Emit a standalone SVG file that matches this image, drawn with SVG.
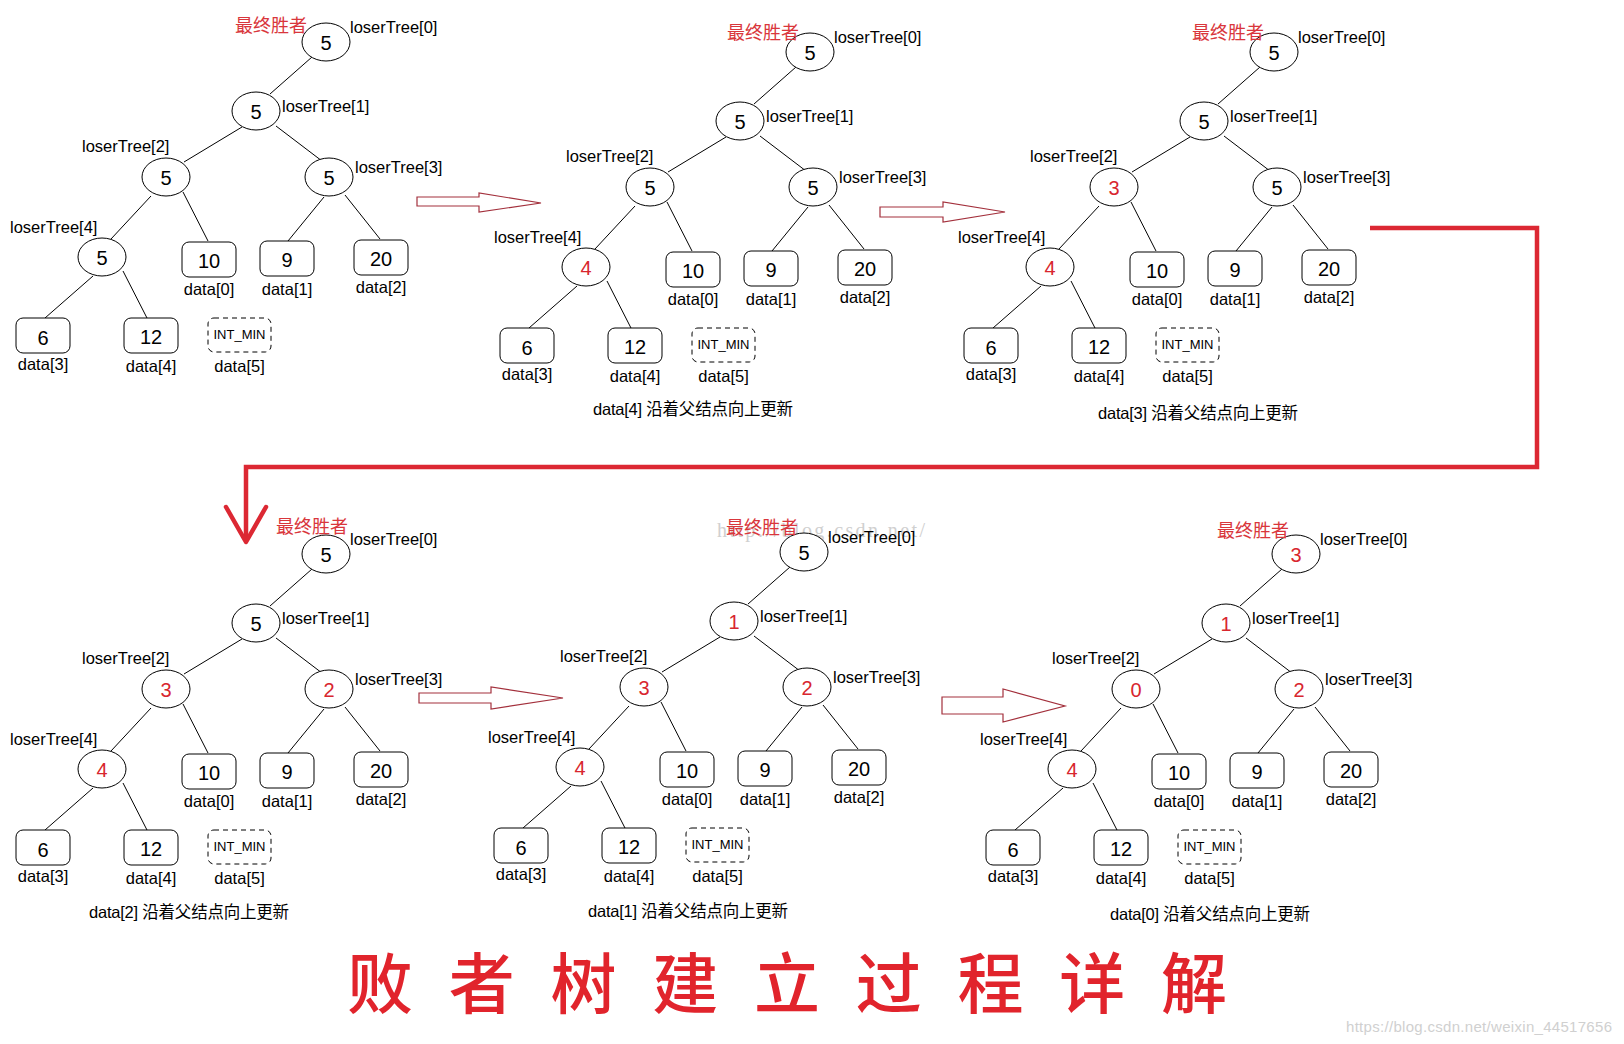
<svg xmlns="http://www.w3.org/2000/svg" width="1624" height="1044" viewBox="0 0 1624 1044">
<style>
text{font-family:"Liberation Sans","Noto Sans CJK SC",sans-serif;fill:#000}
.n ellipse,.n rect{fill:#fff;stroke:#000;stroke-width:1}
.n rect.dash{stroke-dasharray:5 4}
.v{font-size:20px;text-anchor:middle}
.r{fill:#d8262e}
.l{font-size:16.5px}
.c{text-anchor:middle}
.m{font-size:13px;text-anchor:middle}
.win{font-size:18px;fill:#d9363c}
.cap{font-size:16.5px}
.edge line{stroke:#000;stroke-width:1}
.hollow{fill:#fff;stroke:#a3303c;stroke-width:1.2}
.wm{fill:#d0d0d0}
</style>
<rect width="1624" height="1044" fill="#fff"/>

<text class="wm" x="717" y="537" style="font-family:'Liberation Serif',serif;font-size:20px" textLength="208">http://blog.csdn.net/</text>

<!-- connectors between panels -->
<g id="connectors">
<polygon class="hollow" points="417,197 479,197 479,193 541,203 479,212 479,206 417,206"/>
<polygon class="hollow" points="880,207 943,207 943,202 1005,212 943,222 943,217 880,217"/>
<polygon class="hollow" points="419,693 491,693 491,687 563,698 491,709 491,703 419,703"/>
<polygon class="hollow" points="942,697 1003,697 1003,689 1065,706 1003,722 1003,714 942,714"/>
<path d="M1370,228 H1537 V467 H246 V540" fill="none" stroke="#dc2833" stroke-width="4.5"/>
<path d="M226,507 L246,542 L266,507" fill="none" stroke="#dc2833" stroke-width="4.5" stroke-linecap="round" stroke-linejoin="round"/>
</g>

<!-- Panel 1 -->
<g id="panel1" transform="translate(0,0)">
<g id="p1-edges" class="edge">
<line x1="312" y1="57" x2="270" y2="94"/><line x1="242" y1="127" x2="184" y2="162"/><line x1="276" y1="126" x2="322" y2="161"/><line x1="151" y1="196" x2="111" y2="239"/><line x1="183" y1="192" x2="208" y2="241"/><line x1="324" y1="197" x2="288" y2="241"/><line x1="345" y1="195" x2="380" y2="239"/><line x1="93" y1="276" x2="45" y2="318"/><line x1="123" y1="271" x2="148" y2="320"/>
</g>
<text class="win" x="235" y="32">最终胜者</text>
<g id="p1-lt0" class="n"><ellipse cx="326" cy="42" rx="24" ry="19"/><text class="v" x="326" y="50">5</text><text class="l" x="350" y="33">loserTree[0]</text></g>
<g id="p1-lt1" class="n"><ellipse cx="256" cy="111" rx="24" ry="19"/><text class="v" x="256" y="119">5</text><text class="l" x="282" y="112">loserTree[1]</text></g>
<g id="p1-lt2" class="n"><ellipse cx="166" cy="177" rx="24" ry="19"/><text class="v" x="166" y="185">5</text><text class="l" x="82" y="152">loserTree[2]</text></g>
<g id="p1-lt3" class="n"><ellipse cx="329" cy="177" rx="24" ry="19"/><text class="v" x="329" y="185">5</text><text class="l" x="355" y="173">loserTree[3]</text></g>
<g id="p1-lt4" class="n"><ellipse cx="102" cy="257" rx="24" ry="19"/><text class="v" x="102" y="265">5</text><text class="l" x="10" y="233">loserTree[4]</text></g>
<g id="p1-d0" class="n"><rect x="182" y="242" width="54" height="35" rx="7"/><text class="v" x="209" y="268">10</text><text class="l c" x="209" y="295">data[0]</text></g>
<g id="p1-d1" class="n"><rect x="260" y="241" width="54" height="35" rx="7"/><text class="v" x="287" y="267">9</text><text class="l c" x="287" y="295">data[1]</text></g>
<g id="p1-d2" class="n"><rect x="354" y="240" width="54" height="35" rx="7"/><text class="v" x="381" y="266">20</text><text class="l c" x="381" y="293">data[2]</text></g>
<g id="p1-d3" class="n"><rect x="16" y="318" width="54" height="35" rx="7"/><text class="v" x="43" y="345">6</text><text class="l c" x="43" y="370">data[3]</text></g>
<g id="p1-d4" class="n"><rect x="124" y="318" width="54" height="35" rx="7"/><text class="v" x="151" y="344">12</text><text class="l c" x="151" y="372">data[4]</text></g>
<g id="p1-d5" class="n"><rect class="dash" x="208" y="318" width="63" height="34" rx="6"/><text class="m" x="239.5" y="339">INT_MIN</text><text class="l c" x="239.5" y="372">data[5]</text></g>
</g>

<!-- Panel 2 -->
<g id="panel2" transform="translate(484,10)">
<g id="p2-edges" class="edge">
<line x1="312" y1="57" x2="270" y2="94"/><line x1="242" y1="127" x2="184" y2="162"/><line x1="276" y1="126" x2="322" y2="161"/><line x1="151" y1="196" x2="111" y2="239"/><line x1="183" y1="192" x2="208" y2="241"/><line x1="324" y1="197" x2="288" y2="241"/><line x1="345" y1="195" x2="380" y2="239"/><line x1="93" y1="276" x2="45" y2="318"/><line x1="123" y1="271" x2="148" y2="320"/>
</g>
<g id="p2-lt0" class="n"><ellipse cx="326" cy="42" rx="24" ry="19"/><text class="v" x="326" y="50">5</text><text class="l" x="350" y="33">loserTree[0]</text></g>
<text class="win" x="243" y="29">最终胜者</text>
<g id="p2-lt1" class="n"><ellipse cx="256" cy="111" rx="24" ry="19"/><text class="v" x="256" y="119">5</text><text class="l" x="282" y="112">loserTree[1]</text></g>
<g id="p2-lt2" class="n"><ellipse cx="166" cy="177" rx="24" ry="19"/><text class="v" x="166" y="185">5</text><text class="l" x="82" y="152">loserTree[2]</text></g>
<g id="p2-lt3" class="n"><ellipse cx="329" cy="177" rx="24" ry="19"/><text class="v" x="329" y="185">5</text><text class="l" x="355" y="173">loserTree[3]</text></g>
<g id="p2-lt4" class="n"><ellipse cx="102" cy="257" rx="24" ry="19"/><text class="v r" x="102" y="265">4</text><text class="l" x="10" y="233">loserTree[4]</text></g>
<g id="p2-d0" class="n"><rect x="182" y="242" width="54" height="35" rx="7"/><text class="v" x="209" y="268">10</text><text class="l c" x="209" y="295">data[0]</text></g>
<g id="p2-d1" class="n"><rect x="260" y="241" width="54" height="35" rx="7"/><text class="v" x="287" y="267">9</text><text class="l c" x="287" y="295">data[1]</text></g>
<g id="p2-d2" class="n"><rect x="354" y="240" width="54" height="35" rx="7"/><text class="v" x="381" y="266">20</text><text class="l c" x="381" y="293">data[2]</text></g>
<g id="p2-d3" class="n"><rect x="16" y="318" width="54" height="35" rx="7"/><text class="v" x="43" y="345">6</text><text class="l c" x="43" y="370">data[3]</text></g>
<g id="p2-d4" class="n"><rect x="124" y="318" width="54" height="35" rx="7"/><text class="v" x="151" y="344">12</text><text class="l c" x="151" y="372">data[4]</text></g>
<g id="p2-d5" class="n"><rect class="dash" x="208" y="318" width="63" height="34" rx="6"/><text class="m" x="239.5" y="339">INT_MIN</text><text class="l c" x="239.5" y="372">data[5]</text></g>
<text class="cap" x="109" y="405" textLength="200">data[4] 沿着父结点向上更新</text>
</g>

<!-- Panel 3 -->
<g id="panel3" transform="translate(948,10)">
<g id="p3-edges" class="edge">
<line x1="312" y1="57" x2="270" y2="94"/><line x1="242" y1="127" x2="184" y2="162"/><line x1="276" y1="126" x2="322" y2="161"/><line x1="151" y1="196" x2="111" y2="239"/><line x1="183" y1="192" x2="208" y2="241"/><line x1="324" y1="197" x2="288" y2="241"/><line x1="345" y1="195" x2="380" y2="239"/><line x1="93" y1="276" x2="45" y2="318"/><line x1="123" y1="271" x2="148" y2="320"/>
</g>
<g id="p3-lt0" class="n"><ellipse cx="326" cy="42" rx="24" ry="19"/><text class="v" x="326" y="50">5</text><text class="l" x="350" y="33">loserTree[0]</text></g>
<text class="win" x="244" y="29">最终胜者</text>
<g id="p3-lt1" class="n"><ellipse cx="256" cy="111" rx="24" ry="19"/><text class="v" x="256" y="119">5</text><text class="l" x="282" y="112">loserTree[1]</text></g>
<g id="p3-lt2" class="n"><ellipse cx="166" cy="177" rx="24" ry="19"/><text class="v r" x="166" y="185">3</text><text class="l" x="82" y="152">loserTree[2]</text></g>
<g id="p3-lt3" class="n"><ellipse cx="329" cy="177" rx="24" ry="19"/><text class="v" x="329" y="185">5</text><text class="l" x="355" y="173">loserTree[3]</text></g>
<g id="p3-lt4" class="n"><ellipse cx="102" cy="257" rx="24" ry="19"/><text class="v r" x="102" y="265">4</text><text class="l" x="10" y="233">loserTree[4]</text></g>
<g id="p3-d0" class="n"><rect x="182" y="242" width="54" height="35" rx="7"/><text class="v" x="209" y="268">10</text><text class="l c" x="209" y="295">data[0]</text></g>
<g id="p3-d1" class="n"><rect x="260" y="241" width="54" height="35" rx="7"/><text class="v" x="287" y="267">9</text><text class="l c" x="287" y="295">data[1]</text></g>
<g id="p3-d2" class="n"><rect x="354" y="240" width="54" height="35" rx="7"/><text class="v" x="381" y="266">20</text><text class="l c" x="381" y="293">data[2]</text></g>
<g id="p3-d3" class="n"><rect x="16" y="318" width="54" height="35" rx="7"/><text class="v" x="43" y="345">6</text><text class="l c" x="43" y="370">data[3]</text></g>
<g id="p3-d4" class="n"><rect x="124" y="318" width="54" height="35" rx="7"/><text class="v" x="151" y="344">12</text><text class="l c" x="151" y="372">data[4]</text></g>
<g id="p3-d5" class="n"><rect class="dash" x="208" y="318" width="63" height="34" rx="6"/><text class="m" x="239.5" y="339">INT_MIN</text><text class="l c" x="239.5" y="372">data[5]</text></g>
<text class="cap" x="150" y="409" textLength="200">data[3] 沿着父结点向上更新</text>
</g>

<!-- Panel 4 -->
<g id="panel4" transform="translate(0,512)">
<g id="p4-edges" class="edge">
<line x1="312" y1="57" x2="270" y2="94"/><line x1="242" y1="127" x2="184" y2="162"/><line x1="276" y1="126" x2="322" y2="161"/><line x1="151" y1="196" x2="111" y2="239"/><line x1="183" y1="192" x2="208" y2="241"/><line x1="324" y1="197" x2="288" y2="241"/><line x1="345" y1="195" x2="380" y2="239"/><line x1="93" y1="276" x2="45" y2="318"/><line x1="123" y1="271" x2="148" y2="320"/>
</g>
<g id="p4-lt0" class="n"><ellipse cx="326" cy="42" rx="24" ry="19"/><text class="v" x="326" y="50">5</text><text class="l" x="350" y="33">loserTree[0]</text></g>
<text class="win" x="276" y="21">最终胜者</text>
<g id="p4-lt1" class="n"><ellipse cx="256" cy="111" rx="24" ry="19"/><text class="v" x="256" y="119">5</text><text class="l" x="282" y="112">loserTree[1]</text></g>
<g id="p4-lt2" class="n"><ellipse cx="166" cy="177" rx="24" ry="19"/><text class="v r" x="166" y="185">3</text><text class="l" x="82" y="152">loserTree[2]</text></g>
<g id="p4-lt3" class="n"><ellipse cx="329" cy="177" rx="24" ry="19"/><text class="v r" x="329" y="185">2</text><text class="l" x="355" y="173">loserTree[3]</text></g>
<g id="p4-lt4" class="n"><ellipse cx="102" cy="257" rx="24" ry="19"/><text class="v r" x="102" y="265">4</text><text class="l" x="10" y="233">loserTree[4]</text></g>
<g id="p4-d0" class="n"><rect x="182" y="242" width="54" height="35" rx="7"/><text class="v" x="209" y="268">10</text><text class="l c" x="209" y="295">data[0]</text></g>
<g id="p4-d1" class="n"><rect x="260" y="241" width="54" height="35" rx="7"/><text class="v" x="287" y="267">9</text><text class="l c" x="287" y="295">data[1]</text></g>
<g id="p4-d2" class="n"><rect x="354" y="240" width="54" height="35" rx="7"/><text class="v" x="381" y="266">20</text><text class="l c" x="381" y="293">data[2]</text></g>
<g id="p4-d3" class="n"><rect x="16" y="318" width="54" height="35" rx="7"/><text class="v" x="43" y="345">6</text><text class="l c" x="43" y="370">data[3]</text></g>
<g id="p4-d4" class="n"><rect x="124" y="318" width="54" height="35" rx="7"/><text class="v" x="151" y="344">12</text><text class="l c" x="151" y="372">data[4]</text></g>
<g id="p4-d5" class="n"><rect class="dash" x="208" y="318" width="63" height="34" rx="6"/><text class="m" x="239.5" y="339">INT_MIN</text><text class="l c" x="239.5" y="372">data[5]</text></g>
<text class="cap" x="89" y="406" textLength="200">data[2] 沿着父结点向上更新</text>
</g>

<!-- Panel 5 -->
<g id="panel5" transform="translate(478,510)">
<g id="p5-edges" class="edge">
<line x1="312" y1="57" x2="270" y2="94"/><line x1="242" y1="127" x2="184" y2="162"/><line x1="276" y1="126" x2="322" y2="161"/><line x1="151" y1="196" x2="111" y2="239"/><line x1="183" y1="192" x2="208" y2="241"/><line x1="324" y1="197" x2="288" y2="241"/><line x1="345" y1="195" x2="380" y2="239"/><line x1="93" y1="276" x2="45" y2="318"/><line x1="123" y1="271" x2="148" y2="320"/>
</g>
<g id="p5-lt0" class="n"><ellipse cx="326" cy="42" rx="24" ry="19"/><text class="v" x="326" y="50">5</text><text class="l" x="350" y="33">loserTree[0]</text></g>
<text class="win" x="248" y="24">最终胜者</text>
<g id="p5-lt1" class="n"><ellipse cx="256" cy="111" rx="24" ry="19"/><text class="v r" x="256" y="119">1</text><text class="l" x="282" y="112">loserTree[1]</text></g>
<g id="p5-lt2" class="n"><ellipse cx="166" cy="177" rx="24" ry="19"/><text class="v r" x="166" y="185">3</text><text class="l" x="82" y="152">loserTree[2]</text></g>
<g id="p5-lt3" class="n"><ellipse cx="329" cy="177" rx="24" ry="19"/><text class="v r" x="329" y="185">2</text><text class="l" x="355" y="173">loserTree[3]</text></g>
<g id="p5-lt4" class="n"><ellipse cx="102" cy="257" rx="24" ry="19"/><text class="v r" x="102" y="265">4</text><text class="l" x="10" y="233">loserTree[4]</text></g>
<g id="p5-d0" class="n"><rect x="182" y="242" width="54" height="35" rx="7"/><text class="v" x="209" y="268">10</text><text class="l c" x="209" y="295">data[0]</text></g>
<g id="p5-d1" class="n"><rect x="260" y="241" width="54" height="35" rx="7"/><text class="v" x="287" y="267">9</text><text class="l c" x="287" y="295">data[1]</text></g>
<g id="p5-d2" class="n"><rect x="354" y="240" width="54" height="35" rx="7"/><text class="v" x="381" y="266">20</text><text class="l c" x="381" y="293">data[2]</text></g>
<g id="p5-d3" class="n"><rect x="16" y="318" width="54" height="35" rx="7"/><text class="v" x="43" y="345">6</text><text class="l c" x="43" y="370">data[3]</text></g>
<g id="p5-d4" class="n"><rect x="124" y="318" width="54" height="35" rx="7"/><text class="v" x="151" y="344">12</text><text class="l c" x="151" y="372">data[4]</text></g>
<g id="p5-d5" class="n"><rect class="dash" x="208" y="318" width="63" height="34" rx="6"/><text class="m" x="239.5" y="339">INT_MIN</text><text class="l c" x="239.5" y="372">data[5]</text></g>
<text class="cap" x="110" y="407" textLength="200">data[1] 沿着父结点向上更新</text>
</g>

<!-- Panel 6 -->
<g id="panel6" transform="translate(970,512)">
<g id="p6-edges" class="edge">
<line x1="312" y1="57" x2="270" y2="94"/><line x1="242" y1="127" x2="184" y2="162"/><line x1="276" y1="126" x2="322" y2="161"/><line x1="151" y1="196" x2="111" y2="239"/><line x1="183" y1="192" x2="208" y2="241"/><line x1="324" y1="197" x2="288" y2="241"/><line x1="345" y1="195" x2="380" y2="239"/><line x1="93" y1="276" x2="45" y2="318"/><line x1="123" y1="271" x2="148" y2="320"/>
</g>
<g id="p6-lt0" class="n"><ellipse cx="326" cy="42" rx="24" ry="19"/><text class="v r" x="326" y="50">3</text><text class="l" x="350" y="33">loserTree[0]</text></g>
<text class="win" x="247" y="25">最终胜者</text>
<g id="p6-lt1" class="n"><ellipse cx="256" cy="111" rx="24" ry="19"/><text class="v r" x="256" y="119">1</text><text class="l" x="282" y="112">loserTree[1]</text></g>
<g id="p6-lt2" class="n"><ellipse cx="166" cy="177" rx="24" ry="19"/><text class="v r" x="166" y="185">0</text><text class="l" x="82" y="152">loserTree[2]</text></g>
<g id="p6-lt3" class="n"><ellipse cx="329" cy="177" rx="24" ry="19"/><text class="v r" x="329" y="185">2</text><text class="l" x="355" y="173">loserTree[3]</text></g>
<g id="p6-lt4" class="n"><ellipse cx="102" cy="257" rx="24" ry="19"/><text class="v r" x="102" y="265">4</text><text class="l" x="10" y="233">loserTree[4]</text></g>
<g id="p6-d0" class="n"><rect x="182" y="242" width="54" height="35" rx="7"/><text class="v" x="209" y="268">10</text><text class="l c" x="209" y="295">data[0]</text></g>
<g id="p6-d1" class="n"><rect x="260" y="241" width="54" height="35" rx="7"/><text class="v" x="287" y="267">9</text><text class="l c" x="287" y="295">data[1]</text></g>
<g id="p6-d2" class="n"><rect x="354" y="240" width="54" height="35" rx="7"/><text class="v" x="381" y="266">20</text><text class="l c" x="381" y="293">data[2]</text></g>
<g id="p6-d3" class="n"><rect x="16" y="318" width="54" height="35" rx="7"/><text class="v" x="43" y="345">6</text><text class="l c" x="43" y="370">data[3]</text></g>
<g id="p6-d4" class="n"><rect x="124" y="318" width="54" height="35" rx="7"/><text class="v" x="151" y="344">12</text><text class="l c" x="151" y="372">data[4]</text></g>
<g id="p6-d5" class="n"><rect class="dash" x="208" y="318" width="63" height="34" rx="6"/><text class="m" x="239.5" y="339">INT_MIN</text><text class="l c" x="239.5" y="372">data[5]</text></g>
<text class="cap" x="140" y="408" textLength="200">data[0] 沿着父结点向上更新</text>
</g>

<text id="title" x="347" y="1008" textLength="880" lengthAdjust="spacing" style="font-family:'Noto Sans CJK SC',sans-serif;font-size:66px;font-weight:500;fill:#e1242c">败 者 树 建 立 过 程 详 解</text>
<text class="wm" x="1346" y="1032" textLength="266" style="font-size:15px">https://blog.csdn.net/weixin_44517656</text>
</svg>
